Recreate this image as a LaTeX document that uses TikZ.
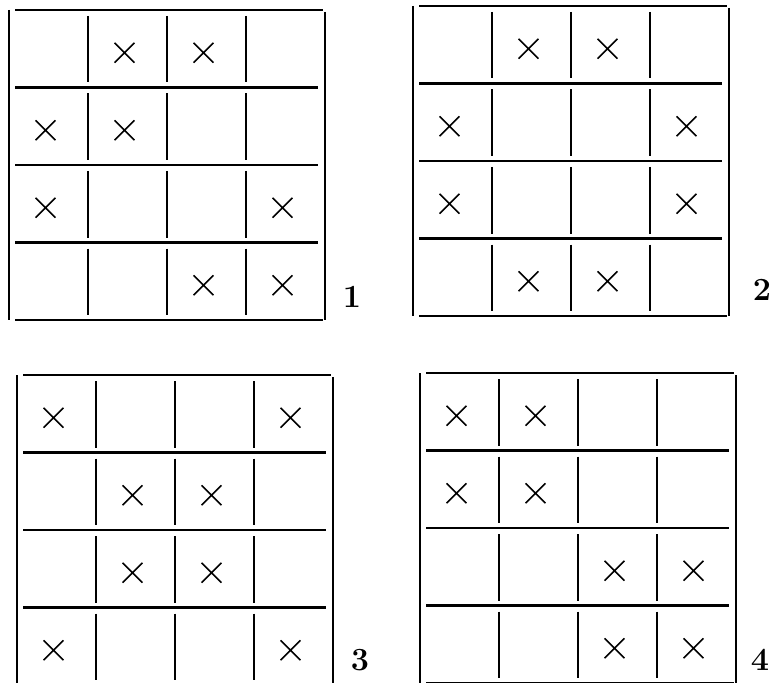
\documentclass[tikz,border=0pt]{standalone}
\usetikzlibrary{shapes.misc}

\tikzset{
  khung/.style={line width=1.5pt},
  dau/.style={cross out, draw, line width=1.1pt, minimum size=13pt, inner sep=0pt},
  so/.style={font=\fontsize{23}{26}\selectfont\bfseries}
}

\begin{document}
\begin{tikzpicture}[x=0.025cm, y=-0.025cm]
    % Khai báo kích thước một ô
    \def\w{79}
    \def\h{77.5}
    \useasboundingbox (0,0) rectangle (773,682);
    \clip (0,0) rectangle (773,682);

    % --- BỐN BẢNG 4x4: số, gốc, vị trí số, các ô có dấu ---
    \foreach \g/\ox/\oy/\lx/\ly/\dsach in {
        1/9/10/352/297/{0/1,0/2,1/0,1/1,2/0,2/3,3/2,3/3},
        2/413/6/762/290/{0/1,0/2,1/0,1/3,2/0,2/3,3/1,3/2},
        3/17/375/360/660/{0/0,0/3,1/1,1/2,2/1,2/2,3/0,3/3},
        4/420/373/760/660/{0/0,0/1,1/0,1/1,2/2,2/3,3/2,3/3}}{
      % Biên ngoài
      \draw[khung] (\ox,\oy) -- (\ox,{\oy+4*\h});
      \draw[khung] ({\ox+4*\w},\oy+2) -- ({\ox+4*\w},{\oy+4*\h});
      \draw[khung] (\ox+6,\oy) -- ({\ox+4*\w-2},\oy);
      \draw[khung] (\ox+6,{\oy+4*\h}) -- ({\ox+4*\w-2},{\oy+4*\h});
      % Đường ngang bên trong
      \foreach \k in {1,2,3}
        \draw[khung] (\ox+6,{\oy+\k*\h}) -- ({\ox+4*\w-7},{\oy+\k*\h});
      % Đoạn dọc trong từng hàng
      \foreach \k in {1,2,3}
        \foreach \r in {0,1,2,3}
          \draw[khung] ({\ox+\k*\w},{\oy+\r*\h+6}) -- ({\ox+\k*\w},{\oy+(\r+1)*\h-5});
      % Dấu x trong các ô
      \foreach \i/\j in \dsach
        \node[dau] (x\g\i\j) at ({\ox+(\j+0.5)*\w-3},{\oy+(\i+0.5)*\h+4}) {};
      % Số thứ tự của bảng
      \node[so] (so\g) at (\lx,\ly) {\g};
    }
\end{tikzpicture}
\end{document}
